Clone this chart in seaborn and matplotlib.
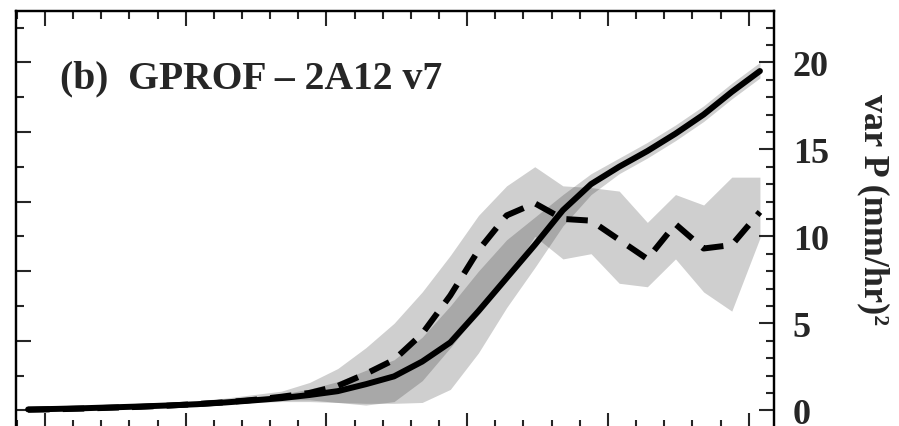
import numpy as np
import pandas as pd
import matplotlib
matplotlib.use("Agg")
import matplotlib.pyplot as plt
from matplotlib.ticker import MultipleLocator
import seaborn as sns

# ---- data ----
x = np.arange(27) - 0.6  # bin positions

solid = [0.05, 0.08, 0.12, 0.17, 0.22, 0.28, 0.35, 0.45, 0.57, 0.70, 0.88, 1.10, 1.50,
         1.95, 2.80, 3.90, 5.70, 7.60, 9.50, 11.5, 13.0, 14.0, 14.9, 15.9, 17.0, 18.3, 19.5]
solid_lo = [0.00, 0.03, 0.07, 0.12, 0.17, 0.22, 0.28, 0.36, 0.45, 0.50, 0.50, 0.45, 0.40,
            0.40, 0.45, 1.20, 3.30, 5.90, 8.20, 10.6, 12.4, 13.6, 14.5, 15.5, 16.6, 17.9, 19.1]
solid_hi = [0.10, 0.13, 0.18, 0.23, 0.29, 0.36, 0.44, 0.56, 0.72, 0.92, 1.22, 1.65, 2.30,
            2.90, 4.20, 6.00, 8.00, 9.80, 11.1, 12.4, 13.6, 14.5, 15.4, 16.4, 17.5, 18.8, 20.0]

dashed = [0.03, 0.06, 0.10, 0.15, 0.20, 0.27, 0.36, 0.46, 0.60, 0.78, 1.00, 1.40, 2.10,
          2.90, 4.40, 6.60, 9.20, 11.2, 11.9, 11.0, 10.9, 9.80, 8.70, 10.7, 9.30, 9.50, 11.4]
dashed_lo = [0.00, 0.02, 0.05, 0.10, 0.14, 0.20, 0.28, 0.38, 0.48, 0.60, 0.60, 0.45, 0.30,
             0.50, 1.70, 3.60, 5.60, 7.50, 10.0, 8.70, 9.00, 7.30, 7.10, 8.70, 6.80, 5.70, 9.90]
dashed_hi = [0.10, 0.13, 0.18, 0.25, 0.32, 0.42, 0.55, 0.70, 0.90, 1.10, 1.60, 2.40, 3.60,
             5.00, 6.80, 8.90, 11.2, 12.9, 14.0, 12.9, 12.8, 12.6, 10.8, 12.4, 11.8, 13.4, 13.4]

title = "(b)  GPROF \u2013 2A12 v7"
ylabel = "var P (mm/hr)\u00b2"
right_ticks = [0, 5, 10, 15, 20]

# ---- style ----
sns.set_style("ticks")
plt.rcParams["font.family"] = ["Liberation Serif", "DejaVu Serif"]
plt.rcParams["font.weight"] = "bold"

W, H = 899, 427
fig = plt.figure(figsize=(W / 100, H / 100), dpi=100)
left_px, right_px, top_px, bot_px = 16, 774, 12, 428.7
ax = fig.add_axes([left_px / W, 1 - bot_px / H, (right_px - left_px) / W, (bot_px - top_px) / H])

df = pd.DataFrame({"x": x, "solid": solid, "dashed": dashed})

ax.fill_between(x, solid_lo, solid_hi, color="black", alpha=0.19, lw=0)
ax.fill_between(x, dashed_lo, dashed_hi, color="black", alpha=0.19, lw=0)

sns.lineplot(data=df, x="x", y="solid", ax=ax, color="black", lw=4.3,
             solid_capstyle="round", solid_joinstyle="round")
sns.lineplot(data=df, x="x", y="dashed", ax=ax, color="black", lw=4.3,
             dashes=False, linestyle=(0, (3.6, 2.2)), dash_capstyle="butt")

ax.set_xlim(-1.03, 25.9)
ax.set_ylim(-1.0, 22.95)
ax.set_xlabel("")
ax.set_ylabel("")

ax.xaxis.set_major_locator(MultipleLocator(5))
ax.xaxis.set_minor_locator(MultipleLocator(1))
ax.yaxis.set_major_locator(MultipleLocator(4))
ax.yaxis.set_minor_locator(MultipleLocator(2))
ax.tick_params(which="both", direction="in", top=True, bottom=True, left=True, right=False,
               labelbottom=False, labelleft=False, width=1.5)
ax.tick_params(which="major", length=11)
ax.tick_params(which="minor", length=6)

ax2 = ax.twinx()
ax2.set_ylim(ax.get_ylim())
ax2.set_yticks(right_ticks)
ax2.yaxis.set_minor_locator(MultipleLocator(1))
ax2.tick_params(which="both", direction="in", right=True, labelright=True, width=1.5,
                labelsize=26, pad=13.5)
ax2.tick_params(which="major", length=11)
ax2.tick_params(which="minor", length=6)
for lab in ax2.get_yticklabels():
    lab.set_fontweight("bold")

ax2.set_ylabel(ylabel, rotation=270, fontsize=26, fontweight="bold", va="center", ha="center")
ax2.yaxis.set_label_coords((873 - left_px) / (right_px - left_px), (bot_px - 210) / (bot_px - top_px))

for a in (ax, ax2):
    for s in a.spines.values():
        s.set_linewidth(1.6)
        s.set_color("black")

ax.text((60 - left_px) / (right_px - left_px), (bot_px - 88) / (bot_px - top_px), title,
        transform=ax.transAxes, fontsize=28.5, fontweight="bold", va="baseline", ha="left")

fig.savefig("out.png", dpi=100)
